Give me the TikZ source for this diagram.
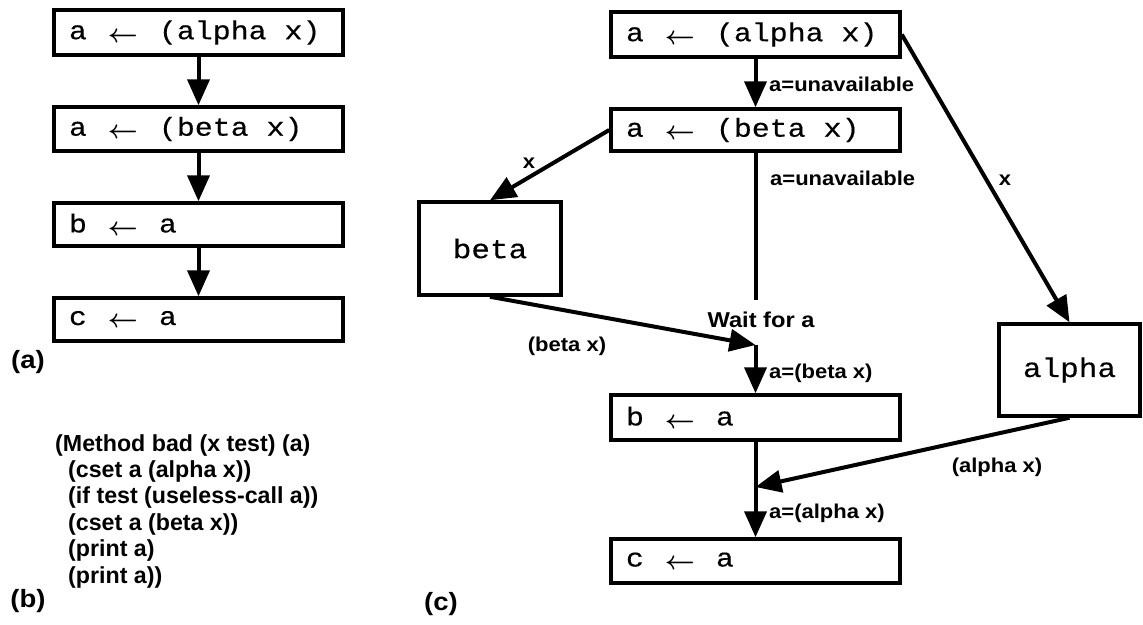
\documentclass[tikz,border=0pt]{standalone}
\usepackage{fontspec}
\usepackage{graphicx}
\usetikzlibrary{arrows.meta}
\newfontfamily\labfont[FakeStretch=1.1]{Liberation Sans}
\newfontfamily\codefont{Liberation Sans}
\newfontfamily\cmono[FakeStretch=1.15,FakeBold=0.4]{Liberation Mono}
\newcommand\asgn[2]{#1\makebox[72pt]{\raisebox{-3pt}{\resizebox{30pt}{!}{\boldmath$\leftarrow$}}}#2}
\tikzset{
  box/.style={draw, line width=3.5pt, rectangle, inner sep=0pt,
    font=\cmono\fontsize{26}{26}\selectfont},
  longbox/.style={box, minimum width=289pt},
  fnbox/.style={box, font=\cmono\fontsize{27}{27}\selectfont},
  lbl/.style={font=\labfont\bfseries\fontsize{20}{20}\selectfont, inner sep=0pt},
  panel/.style={font=\labfont\bfseries\fontsize{25}{25}\selectfont, inner sep=0pt},
  codeline/.style={font=\codefont\bfseries\fontsize{23.2}{24}\selectfont, inner sep=0pt, anchor=base west},
  conn/.style={line width=4pt, -{Triangle[width=22pt,length=26pt]}},
  plainconn/.style={line width=4pt}
}
\begin{document}
\begin{tikzpicture}[x=1pt,y=-1pt]
\useasboundingbox (0,0) rectangle (1143,624);
% ---------- panel (a)
\node[longbox, minimum height=45pt] (a1) at (198.5,32.5) {\makebox[259pt][l]{\asgn{a}{(alpha x)}}};
\node[longbox, minimum height=44pt] (a2) at (198.5,129) {\makebox[259pt][l]{\asgn{a}{(beta x)}}};
\node[longbox, minimum height=43pt] (a3) at (198.5,224.5) {\makebox[259pt][l]{\asgn{b}{a}}};
\node[longbox, minimum height=43pt] (a4) at (198.5,319.5) {\makebox[259pt][l]{\asgn{c}{a}}};
\draw[conn] (a1) -- (a2);
\draw[conn] (a2) -- (a3);
\draw[conn] (a3) -- (a4);
\node[panel] (pa) at (28,362) {(a)};
% ---------- panel (b)
\node[codeline] (l1) at (55,451) {(Method bad (x test) (a)};
\node[codeline] (l2) at (68,477.4) {(cset a (alpha x))};
\node[codeline] (l3) at (68,503.8) {(if test (useless-call a))};
\node[codeline] (l4) at (68,530.2) {(cset a (beta x))};
\node[codeline] (l5) at (68,556.6) {(print a)};
\node[codeline] (l6) at (68,583) {(print a))};
\node[panel] (pb) at (28,601) {(b)};
% ---------- panel (c)
\node[longbox, minimum height=45pt] (c1) at (755.5,34.5) {\makebox[259pt][l]{\asgn{a}{(alpha x)}}};
\node[longbox, minimum height=42pt] (c2) at (755.5,130) {\makebox[259pt][l]{\asgn{a}{(beta x)}}};
\node[longbox, minimum height=45pt] (c3) at (755.5,417.5) {\makebox[259pt][l]{\asgn{b}{a}}};
\node[longbox, minimum height=44pt] (c4) at (755.5,561) {\makebox[259pt][l]{\asgn{c}{a}}};
\node[fnbox, minimum width=142pt, minimum height=93pt] (beta) at (490,248.5) {beta};
\node[fnbox, minimum width=141pt, minimum height=92pt] (alpha) at (1069.5,370) {alpha};
\coordinate (w) at (755.5,300);
\coordinate (j1) at (755.5,345);
\coordinate (j2) at (755.5,487);
\draw[conn] (c1) -- (c2);
\draw[conn] (c2.west) -- (beta.north);
\draw[plainconn] (c2.south) -- (w);
\draw[conn] (beta.south) -- (j1);
\draw[conn] (j1) -- (c3.north);
\draw[conn] (c3) -- (c4);
\draw[conn] (c1.east) -- (alpha.north);
\draw[conn] (alpha.south) -- (j2);
\node[lbl, anchor=west] (u1) at (769,84) {a=unavailable};
\node[lbl, anchor=west] (u2) at (770,178) {a=unavailable};
\node[lbl, font=\labfont\bfseries\fontsize{21.5}{21.5}\selectfont] (wait) at (761,320) {Wait for a};
\node[lbl] (x1) at (529,163) {x};
\node[lbl] (x2) at (1005,180) {x};
\node[lbl] (bx) at (567,346) {(beta x)};
\node[lbl, anchor=west] (abx) at (769,373) {a=(beta x)};
\node[lbl] (ax) at (997,467) {(alpha x)};
\node[lbl, anchor=west] (aax) at (769,513) {a=(alpha x)};
\node[panel] (pc) at (441,604) {(c)};
\end{tikzpicture}
\end{document}
